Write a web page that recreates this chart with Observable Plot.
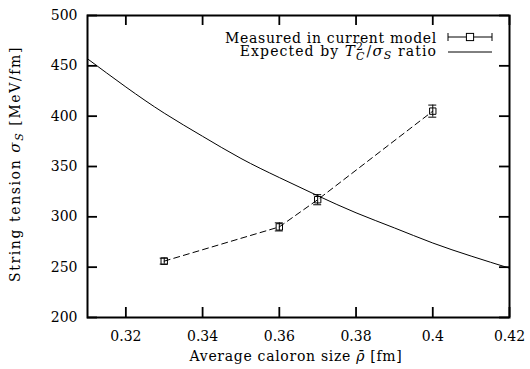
<!DOCTYPE html>
<html>
<head>
<meta charset="utf-8">
<script src="https://cdn.jsdelivr.net/npm/d3@7"></script>
<script src="https://cdn.jsdelivr.net/npm/@observablehq/plot@0.6"></script>
<style>
  html, body { margin: 0; padding: 0; background: #fff; }
  svg, svg text { font-family: "DejaVu Serif", "DejaVu Sans", serif !important; }
</style>
</head>
<body>
<div id="chart"></div>
<script>
// Measured string tension vs. average caloron size
const measuredRho = [0.33, 0.36, 0.37, 0.40];
const measuredSigma = [256, 290, 317, 405];
const measuredErr = [3, 4, 5, 6];

// Expected curve from the T_C^2 / sigma_S ratio
const expectedRho = [0.31, 0.32, 0.33, 0.34, 0.35, 0.36, 0.37, 0.38, 0.39, 0.40, 0.41, 0.42];
const expectedSigma = [457, 429, 403, 380, 358, 339, 321, 304, 289, 274, 261, 249];

// Axis ticks
const xTicks = [0.32, 0.34, 0.36, 0.38, 0.40, 0.42];
const yTicks = [200, 250, 300, 350, 400, 450, 500];

const measured = measuredRho.map((x, i) => ({x, y: measuredSigma[i], lo: measuredSigma[i] - measuredErr[i], hi: measuredSigma[i] + measuredErr[i]}));
const expected = expectedRho.map((x, i) => ({x, y: expectedSigma[i]}));

const W = 530, H = 369;
const mL = 87, mR = 21, mT = 15, mB = 52;
const innerW = W - mL - mR, innerH = H - mT - mB;
const tickLen = 10;
const FONT = "'DejaVu Serif', 'DejaVu Sans', serif";

const chart = Plot.plot({
  width: W,
  height: H,
  marginLeft: mL,
  marginRight: mR,
  marginTop: mT,
  marginBottom: mB,
  style: {fontFamily: FONT, fontSize: "14px", color: "#000", background: "#fff"},
  x: {domain: [0.31, 0.42]},
  y: {domain: [200, 500]},
  marks: [
    // expected curve
    Plot.line(expected, {x: "x", y: "y", curve: "natural", stroke: "#000", strokeWidth: 1}),
    // measured points joined by a dashed line
    Plot.line(measured, {x: "x", y: "y", stroke: "#000", strokeWidth: 1, strokeDasharray: "6,4"}),
    Plot.ruleX(measured, {x: "x", y1: "lo", y2: "hi", stroke: "#000", strokeWidth: 1}),
    Plot.ruleY(measured, {y: "lo", x1: "x", x2: "x", insetLeft: -4, insetRight: -4, stroke: "#000", strokeWidth: 1}),
    Plot.ruleY(measured, {y: "hi", x1: "x", x2: "x", insetLeft: -4, insetRight: -4, stroke: "#000", strokeWidth: 1}),
    Plot.dot(measured, {x: "x", y: "y", symbol: "square", r: 3.6, stroke: "#000", fill: "none", strokeWidth: 1}),
    // inward ticks on all four sides
    Plot.ruleX(xTicks, {x: d => d, insetTop: innerH - tickLen, stroke: "#000", strokeWidth: 1.8}),
    Plot.ruleX(xTicks, {x: d => d, insetBottom: innerH - tickLen, stroke: "#000", strokeWidth: 1.8}),
    Plot.ruleY(yTicks, {y: d => d, insetRight: innerW - tickLen, stroke: "#000", strokeWidth: 1.8}),
    Plot.ruleY(yTicks, {y: d => d, insetLeft: innerW - tickLen, stroke: "#000", strokeWidth: 1.8}),
    Plot.frame({stroke: "#000", strokeWidth: 2}),
    Plot.axisX({ticks: xTicks, tickSize: 0, tickPadding: 14, label: null, tickFormat: d3.format("~g")}),
    Plot.axisY({ticks: yTicks, tickSize: 0, tickPadding: 10, label: null})
  ]
});

document.getElementById("chart").appendChild(chart);

// Axis titles and legend with italic symbols, subscripts and superscripts
const svg = d3.select(chart);
const g = svg.append("g").attr("fill", "#000").attr("font-family", FONT).attr("font-size", 14);

const xl = g.append("text")
  .attr("x", mL + innerW / 2 - 2).attr("y", 361)
  .attr("text-anchor", "middle").style("letter-spacing", "0.7px");
xl.append("tspan").text("Average caloron size ");
xl.append("tspan").attr("font-style", "italic").text("\u03C1\u0304");
xl.append("tspan").text(" [fm]");

const yl = g.append("text")
  .attr("transform", `translate(20,${mT + innerH / 2 - 2}) rotate(-90)`)
  .attr("text-anchor", "middle").style("letter-spacing", "1.6px");
yl.append("tspan").text("String tension ");
yl.append("tspan").attr("font-style", "italic").attr("font-size", 15).text("\u03C3");
yl.append("tspan").attr("font-style", "italic").attr("font-size", 11).attr("dy", 3).text("S");
yl.append("tspan").attr("dy", -3).text(" [MeV/fm]");

// legend
const right = mL + innerW;
g.append("text").attr("x", right - 72).attr("y", 43)
  .attr("text-anchor", "end").style("letter-spacing", "0.7px")
  .text("Measured in current model");
const l2 = g.append("text").attr("x", right - 72).attr("y", 56)
  .attr("text-anchor", "end").style("letter-spacing", "1.1px");
l2.append("tspan").text("Expected by ");
l2.append("tspan").attr("font-style", "italic").attr("font-size", 15).text("T");
l2.append("tspan").attr("font-size", 11).attr("dy", -6).text("2");
l2.append("tspan").attr("font-size", 11).attr("font-style", "italic").attr("dx", -8).attr("dy", 10).text("C");
l2.append("tspan").attr("dy", -4).attr("dx", 1).text("/");
l2.append("tspan").attr("font-style", "italic").attr("font-size", 15).text("\u03C3");
l2.append("tspan").attr("font-style", "italic").attr("font-size", 11).attr("dy", 3).text("S");
l2.append("tspan").attr("dy", -3).text(" ratio");

const sx1 = right - 61, sx2 = right - 17, scx = (sx1 + sx2) / 2;
const lg = svg.append("g").attr("stroke", "#000").attr("fill", "none").attr("stroke-width", 1);
lg.append("line").attr("x1", sx1).attr("x2", sx2).attr("y1", 37).attr("y2", 37);
lg.append("line").attr("x1", sx1).attr("x2", sx1).attr("y1", 33).attr("y2", 41);
lg.append("line").attr("x1", sx2).attr("x2", sx2).attr("y1", 33).attr("y2", 41);
lg.append("rect").attr("x", scx - 3.6).attr("y", 37 - 3.6).attr("width", 7.2).attr("height", 7.2).attr("fill", "#fff");
lg.append("line").attr("x1", sx1).attr("x2", sx2).attr("y1", 52).attr("y2", 52);
</script>
</body>
</html>
